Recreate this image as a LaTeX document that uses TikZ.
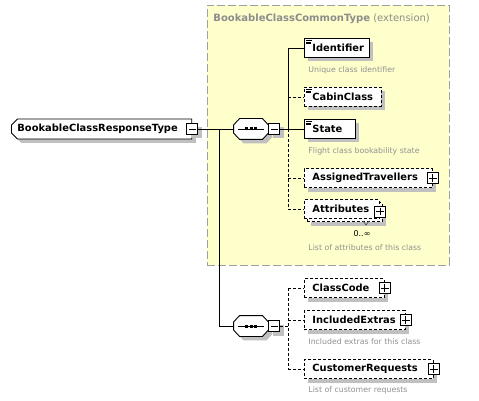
\documentclass[tikz,border=0pt]{standalone}
\usepackage{fontspec}
\setmainfont{DejaVu Sans}
\usetikzlibrary{shapes.misc,shadows,calc}
\definecolor{boxyellow}{RGB}{255,255,204}
\definecolor{framegray}{RGB}{160,160,160}
\definecolor{shadegray}{RGB}{192,192,192}
\definecolor{descgray}{RGB}{145,145,145}
\definecolor{titlegray}{RGB}{140,140,140}
\newcommand\seqshape[1]{%
  \path[draw,fill=white,shadowed]
    ($(#1.west)+(0,-4)$) -- ($(#1.north west)+(6,0)$) -- ($(#1.north east)+(-6,0)$) -- ($(#1.east)+(0,-4)$) --
    ($(#1.east)+(0,4)$) -- ($(#1.south east)+(-6,0)$) -- ($(#1.south west)+(6,0)$) -- ($(#1.west)+(0,4)$) -- cycle;
  \draw ($(#1.center)+(-13,0)$) -- ($(#1.center)+(13,0)$);
  \foreach \dx in {-4.5,0,4.5}
    \fill ($(#1.center)+(\dx,0)+(-1.5,-1.5)$) rectangle +(3,3);
}
\begin{document}
\begin{tikzpicture}[x=1pt,y=-1pt,line width=0.9pt,
 shadowed/.style={drop shadow={fill=shadegray,opacity=1,shadow xshift=4pt,shadow yshift=-4pt}},
 lbl/.style={font=\bfseries\fontsize{9.9}{11}\selectfont},
 elembase/.style={draw,fill=white,anchor=west,minimum height=19pt,inner xsep=8pt,inner ysep=0pt,text width=#1,align=left,lbl},
 elem/.style={elembase=#1,shadowed},
 optdash/.style={dash pattern=on 3pt off 2pt},
 optelem/.style={elem=#1,optdash},
 toggle/.style={draw,fill=white,minimum size=11pt,inner sep=0pt},
 desc/.style={anchor=west,inner sep=0pt,text=descgray,font=\fontsize{7.8}{9}\selectfont},
 seqnode/.style={minimum width=34pt,minimum height=20pt,inner sep=0pt},
 rootbox/.style={draw,fill=white,chamfered rectangle,chamfered rectangle corners={north west,south west},chamfered rectangle xsep=3pt,chamfered rectangle ysep=3pt,anchor=west,minimum height=20pt,inner xsep=3pt,inner ysep=0pt,lbl,shadowed},
 wire/.style={line width=0.9pt},
 optwire/.style={wire,optdash}
]
\useasboundingbox (0,0) rectangle (479,401);
\fill[white] (0,0) rectangle (479,401);

% extension container
\node[draw=framegray,fill=boxyellow,dash pattern=on 8pt off 3pt,minimum width=242pt,minimum height=260pt,anchor=north west,inner sep=0pt] (ext) at (207,5) {};
\node[anchor=west,inner sep=0pt,text=titlegray,font=\fontsize{10}{12}\selectfont] (exttitle) at (213,19) {\textbf{BookableClassCommonType} (extension)};

% root
\node[rootbox] (root) at (11,129) {BookableClassResponseType\hspace*{8pt}};
\node[toggle,shadowed] (rootminus) at (root.east) {};
\draw ($(rootminus.west)+(2.5,0)$) -- ($(rootminus.east)+(-2.5,0)$);

% sequences
\node[seqnode] (seq1) at (251,129) {};
\node[seqnode] (seq2) at (251,326) {};
\seqshape{seq1}
\seqshape{seq2}
\node[toggle,shadowed,anchor=west] (seq1minus) at (seq1.east) {};
\node[toggle,shadowed,anchor=west] (seq2minus) at (seq2.east) {};
\foreach \m in {seq1minus,seq2minus}
  \draw ($(\m.west)+(2.5,0)$) -- ($(\m.east)+(-2.5,0)$);

% junctions
\coordinate (j1) at (219,129);
\coordinate (j2) at (219,326);
\coordinate (bus1) at (288,129);
\coordinate (bus2) at (288,326);

% elements of the first sequence
\node[elem=49pt] (identifier) at (304,48) {Identifier};
\node[optelem=61pt] (cabinclass) at (304,97) {CabinClass};
\node[elem=35pt] (state) at (304,129) {State};
\node[optelem=112pt] (assigned) at (304,178) {AssignedTravellers};
\node[optelem=59pt] (attrback) at (307,212) {\phantom{Attributes}};
\node[elembase=59pt,optdash] (attributes) at (304,209) {Attributes};
\node[desc] (d1) at (308,70) {Unique class identifier};
\node[desc] (d2) at (308,151) {Flight class bookability state};
\node[inner sep=0pt,font=\fontsize{8}{9}\selectfont] (mult) at (362,234) {0..∞};
\node[desc] (d3) at (308,248) {List of attributes of this class};
\draw[line width=0.6pt,black!70] (363,221) -- (366,225) -- (369,221);

% elements of the second sequence
\node[optelem=64pt] (classcode) at (304,288) {ClassCode};
\node[optelem=85pt] (included) at (304,320) {IncludedExtras};
\node[optelem=113pt] (customer) at (304,369) {CustomerRequests};
\node[desc] (d4) at (308,342) {Included extras for this class};
\node[desc] (d5) at (308,390) {List of customer requests};

% simple-content icons
\foreach \e in {identifier,cabinclass,state}{
  \draw[line width=0.6pt] ($(\e.north west)+(2,2)$) -- +(6,0);
  \draw[line width=0.6pt] ($(\e.north west)+(2,3.8)$) -- +(5,0);
  \draw[line width=0.6pt] ($(\e.north west)+(2,5.6)$) -- +(5,0);
}

% plus toggles
\node[toggle] (p1) at (assigned.east) {};
\node[toggle] (p2) at ($(attributes.east)+(0.5,2.5)$) {};
\node[toggle] (p3) at (classcode.east) {};
\node[toggle] (p4) at (included.east) {};
\node[toggle] (p5) at (customer.east) {};
\foreach \p in {p1,p2,p3,p4,p5}{
  \draw ($(\p.west)+(2,0)$) -- ($(\p.east)+(-2,0)$);
  \draw ($(\p.north)+(0,2)$) -- ($(\p.south)+(0,-2)$);
}

% connectors
\draw[wire] (rootminus.east) -- (seq1.west);
\draw[wire] (j1) -- (j2) -- (seq2.west);
\draw[wire] (seq1minus.east) -- (bus1);
\draw[wire] (bus1 |- identifier.west) -- (identifier.west);
\draw[wire] (bus1 |- identifier.west) -- (bus1);
\draw[wire] (bus1) -- (state.west);
\draw[optwire] (bus1 |- cabinclass.west) -- (cabinclass.west);
\draw[optwire] (bus1) -- (bus1 |- attributes.west);
\draw[optwire] (bus1 |- assigned.west) -- (assigned.west);
\draw[optwire] (bus1 |- attributes.west) -- (attributes.west);
\draw[optwire] (seq2minus.east) -- (bus2);
\draw[optwire] (bus2 |- classcode.west) -- (bus2 |- customer.west);
\draw[optwire] (bus2 |- classcode.west) -- (classcode.west);
\draw[optwire] (bus2 |- included.west) -- (included.west);
\draw[optwire] (bus2 |- customer.west) -- (customer.west);
\end{tikzpicture}
\end{document}
